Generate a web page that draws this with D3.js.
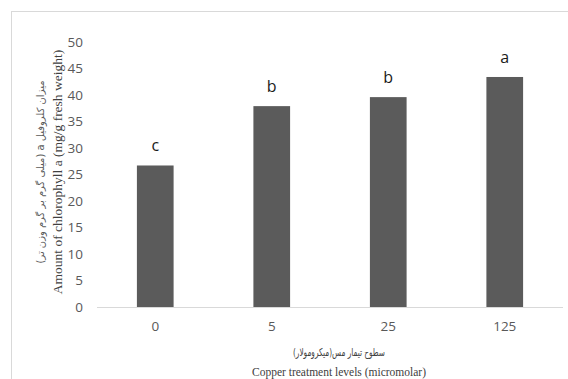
<!DOCTYPE html>
<html>
<head>
<meta charset="utf-8">
<script src="https://cdn.jsdelivr.net/npm/d3@7"></script>
<style>
  html, body { margin: 0; padding: 0; background: #fff; }
  svg { display: block; }
</style>
</head>
<body>
<svg id="chart" width="568" height="379"></svg>
<script>
// Chlorophyll a content by copper treatment level
const categories = ["0", "5", "25", "125"];
const chlorophyllA = [26.7, 37.9, 39.6, 43.4];
const groupLetters = ["c", "b", "b", "a"];
const yTicks = [0, 5, 10, 15, 20, 25, 30, 35, 40, 45, 50];

const xTitleFa = "سطوح تیمار مس(میکرومولار)";
const xTitleEn = "Copper treatment levels (micromolar)";
const yTitleFa = "میزان کلروفیل a (میلی گرم بر گرم وزن تر)";
const yTitleEn = "Amount of chlorophyll a (mg/g fresh weight)";

const svg = d3.select("#chart");
const plot = { left: 97, right: 563, top: 42, bottom: 307 };

// outer frame (runs off the right and bottom edges)
svg.append("rect")
  .attr("x", 11.5).attr("y", 11.5)
  .attr("width", 570).attr("height", 380)
  .attr("fill", "none").attr("stroke", "#d9d9d9").attr("stroke-width", 1);

const x = d3.scaleBand()
  .domain(categories)
  .range([plot.left, plot.right])
  .paddingInner(0.685)
  .paddingOuter(0.3425);

const y = d3.scaleLinear()
  .domain([0, 50])
  .range([plot.bottom, plot.top]);

const tickFont = "'Open Sans', 'Liberation Sans', sans-serif";

// y axis tick labels only
const yAxis = d3.axisLeft(y).tickValues(yTicks).tickSize(0).tickPadding(0);
const gy = svg.append("g")
  .attr("transform", `translate(${plot.left - 14},0)`)
  .call(yAxis);
gy.select(".domain").remove();
gy.selectAll("text")
  .attr("fill", "#595959")
  .style("font-family", tickFont)
  .style("font-size", "13.5px");

// bars
svg.append("g").selectAll("rect")
  .data(categories)
  .join("rect")
  .attr("x", d => x(d))
  .attr("y", (d, i) => y(chlorophyllA[i]))
  .attr("width", x.bandwidth())
  .attr("height", (d, i) => y(0) - y(chlorophyllA[i]))
  .attr("fill", "#5b5b5b");

// baseline and category labels
const xAxis = d3.axisBottom(x).tickSize(0).tickPadding(14);
const gx = svg.append("g")
  .attr("transform", `translate(0,${plot.bottom})`)
  .call(xAxis);
gx.select(".domain")
  .attr("stroke", "#d9d9d9")
  .attr("d", `M${plot.left},0.5H${plot.right}`);
gx.selectAll("text")
  .attr("fill", "#595959")
  .style("font-family", tickFont)
  .style("font-size", "13.5px");

// significance letters
svg.append("g").selectAll("text")
  .data(categories)
  .join("text")
  .attr("x", d => x(d) + x.bandwidth() / 2)
  .attr("y", (d, i) => y(chlorophyllA[i]) - 14)
  .attr("text-anchor", "middle")
  .attr("fill", "#1a1a1a")
  .style("font-family", tickFont)
  .style("font-size", "16px")
  .text((d, i) => groupLetters[i]);

// x axis titles
const xc = 339;
svg.append("text")
  .attr("x", xc).attr("y", 356)
  .attr("text-anchor", "middle")
  .attr("fill", "#404040")
  .attr("direction", "rtl")
  .attr("textLength", 92)
  .attr("lengthAdjust", "spacingAndGlyphs")
  .style("font-family", "'DejaVu Sans', sans-serif")
  .style("font-size", "11px")
  .text(xTitleFa);
svg.append("text")
  .attr("x", xc).attr("y", 376)
  .attr("text-anchor", "middle")
  .attr("fill", "#404040")
  .style("font-family", "'Liberation Serif', serif")
  .style("font-size", "11.5px")
  .text(xTitleEn);

// y axis titles
const yc = 172;
svg.append("text")
  .attr("transform", `translate(62,${yc}) rotate(-90)`)
  .attr("text-anchor", "middle")
  .attr("fill", "#404040")
  .style("font-family", "'Liberation Serif', serif")
  .style("font-size", "13.5px")
  .text(yTitleEn);
svg.append("text")
  .attr("transform", `translate(44,${yc}) rotate(-90)`)
  .attr("text-anchor", "middle")
  .attr("fill", "#595959")
  .attr("direction", "rtl")
  .attr("textLength", 183)
  .attr("lengthAdjust", "spacingAndGlyphs")
  .style("font-family", "'DejaVu Sans', sans-serif")
  .style("font-size", "10px")
  .text(yTitleFa);
</script>
</body>
</html>
